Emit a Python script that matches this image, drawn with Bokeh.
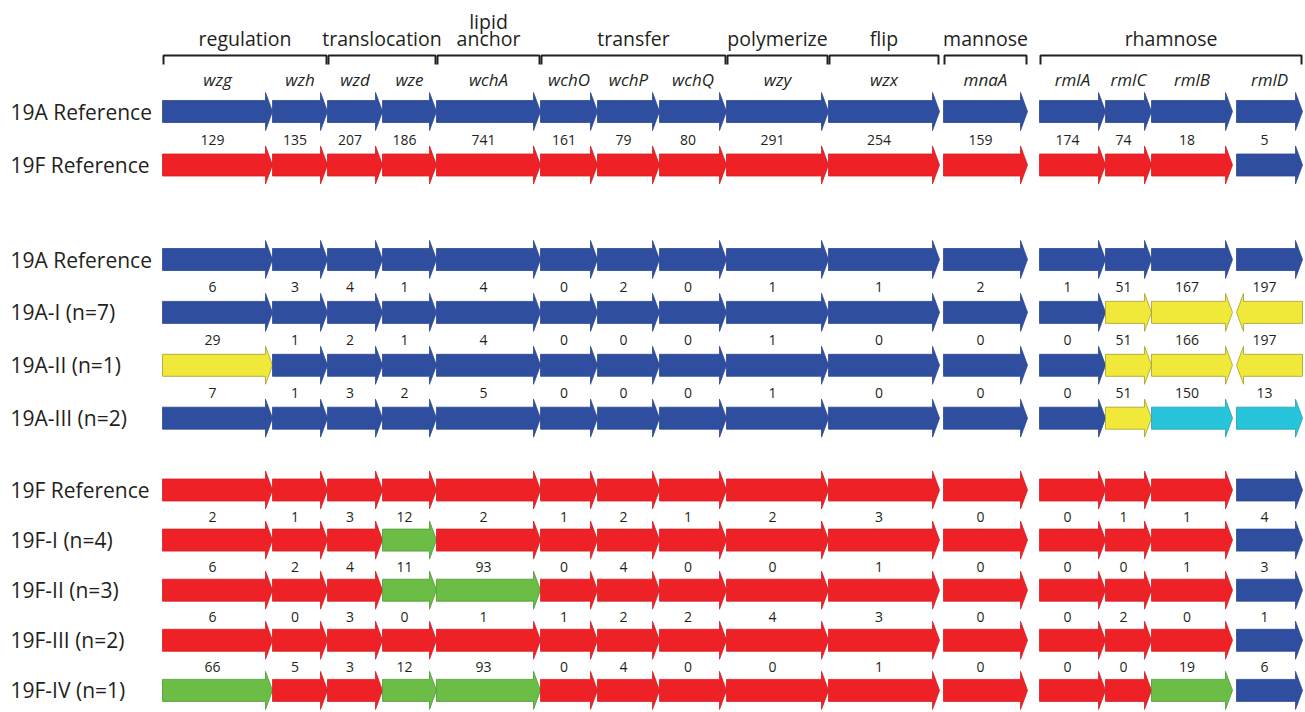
from bokeh.plotting import figure
from bokeh.models import Range1d, ColumnDataSource
from bokeh.core.properties import value
from bokeh.embed import file_html
from bokeh.resources import INLINE

# ---------------- data ----------------
genes = ["wzg", "wzh", "wzd", "wze", "wchA", "wchO", "wchP", "wchQ",
         "wzy", "wzx", "mnaA", "rmlA", "rmlC", "rmlB", "rmlD"]

categories = ["regulation", "translocation", "lipid\nanchor", "transfer",
              "polymerize", "flip", "mannose", "rhamnose"]
category_genes = [["wzg", "wzh"], ["wzd", "wze"], ["wchA"],
                  ["wchO", "wchP", "wchQ"], ["wzy"], ["wzx"], ["mnaA"],
                  ["rmlA", "rmlC", "rmlB", "rmlD"]]

row_labels = ["19A Reference", "19F Reference",
              "19A Reference", "19A-I (n=7)", "19A-II (n=1)", "19A-III (n=2)",
              "19F Reference", "19F-I (n=4)", "19F-II (n=3)", "19F-III (n=2)",
              "19F-IV (n=1)"]
row_groups = [0, 0, 1, 1, 1, 1, 2, 2, 2, 2, 2]

# allele type per gene: B = 19A-like, R = 19F-like, Y / C / G = other variants
row_alleles = [
    "BBBBBBBBBBBBBBB",
    "RRRRRRRRRRRRRRB",
    "BBBBBBBBBBBBBBB",
    "BBBBBBBBBBBBYYY",
    "YBBBBBBBBBBBYYY",
    "BBBBBBBBBBBBYCC",
    "RRRRRRRRRRRRRRB",
    "RRRGRRRRRRRRRRB",
    "RRRGGRRRRRRRRRB",
    "RRRRRRRRRRRRRRB",
    "GRRGGRRRRRRRRGB",
]
# reversed-orientation genes (row index, gene)
reversed_genes = [(3, "rmlD"), (4, "rmlD")]

# allelic differences between consecutive rows
diff_pairs = [(0, 1), (2, 3), (3, 4), (4, 5), (6, 7), (7, 8), (8, 9), (9, 10)]
diff_values = [
    [129, 135, 207, 186, 741, 161, 79, 80, 291, 254, 159, 174, 74, 18, 5],
    [6, 3, 4, 1, 4, 0, 2, 0, 1, 1, 2, 1, 51, 167, 197],
    [29, 1, 2, 1, 4, 0, 0, 0, 1, 0, 0, 0, 51, 166, 197],
    [7, 1, 3, 2, 5, 0, 0, 0, 1, 0, 0, 0, 51, 150, 13],
    [2, 1, 3, 12, 2, 1, 2, 1, 2, 3, 0, 0, 1, 1, 4],
    [6, 2, 4, 11, 93, 0, 4, 0, 0, 1, 0, 0, 0, 1, 3],
    [6, 0, 3, 0, 1, 1, 2, 2, 4, 3, 0, 0, 2, 0, 1],
    [66, 5, 3, 12, 93, 0, 4, 0, 0, 1, 0, 0, 0, 19, 6],
]

# ---------------- layout ----------------
gene_x0 = [162, 272, 327, 382, 436, 540, 597, 659, 726, 828, 943, 1039, 1105, 1151, 1236]
gene_x1 = [272, 327, 382, 436, 540, 597, 659, 726, 828, 939, 1027, 1105, 1151, 1232, 1302]
group_first_y = [111, 259, 489.5]
group_step = [53.5, 52.9, 50.1]
HEAD = 7
BODY_H = 11
HEAD_H = 19

fills = {"B": "#2F4EA0", "R": "#EE2126", "Y": "#F1E93A", "C": "#27C4DB", "G": "#6BBD46"}
lines = {"B": "#2B4793", "R": "#D31E23", "Y": "#A59E2C", "C": "#1F9FB2", "G": "#4E9736"}

FONT = "Open Sans"
INK = "#231F20"

row_y = []
counters = {}
for g in row_groups:
    k = counters.get(g, 0)
    row_y.append(group_first_y[g] + k * group_step[g])
    counters[g] = k + 1

p = figure(width=1305, height=712, output_backend="svg", toolbar_location=None,
           x_range=Range1d(0, 1305), y_range=Range1d(712, 0),
           x_axis_location=None, y_axis_location=None, min_border=0)
p.outline_line_color = None
p.xgrid.visible = False
p.ygrid.visible = False

# arrows
xs, ys, fc, lc = [], [], [], []
for r, (alle, yc) in enumerate(zip(row_alleles, row_y)):
    for gi, gname in enumerate(genes):
        a, b = gene_x0[gi], gene_x1[gi]
        code = alle[gi]
        if (r, gname) in reversed_genes:
            px = [b, a + HEAD, a + HEAD, a, a + HEAD, a + HEAD, b]
        else:
            px = [a, b - HEAD, b - HEAD, b, b - HEAD, b - HEAD, a]
        py = [yc - BODY_H, yc - BODY_H, yc - HEAD_H, yc, yc + HEAD_H, yc + BODY_H, yc + BODY_H]
        xs.append(px)
        ys.append(py)
        fc.append(fills[code])
        lc.append(lines[code])
p.patches(xs="xs", ys="ys", fill_color="fc", line_color="lc", line_width=0.8,
          source=ColumnDataSource(dict(xs=xs, ys=ys, fc=fc, lc=lc)))

# row labels
p.text(x=[10] * len(row_labels), y=row_y, text=row_labels,
       text_font=value(FONT), text_font_size=value("21px"), text_color=INK,
       text_align="left", text_baseline="middle")

# difference numbers
nx, ny, nt = [], [], []
for (ra, rb), vals in zip(diff_pairs, diff_values):
    ym = (row_y[ra] + row_y[rb]) / 2 + 1.5
    for gi, v in enumerate(vals):
        nx.append((gene_x0[gi] + gene_x1[gi]) / 2 - 5)
        ny.append(ym)
        nt.append(str(v))
p.text(x=nx, y=ny, text=nt, text_font=value(FONT), text_font_size=value("14px"),
       text_color=INK, text_align="center", text_baseline="middle")

# gene names
p.text(x=[(a + b) / 2 for a, b in zip(gene_x0, gene_x1)], y=[79] * len(genes), text=genes,
       text_font=value(FONT), text_font_size=value("17px"), text_font_style="italic",
       text_color=INK, text_align="center", text_baseline="middle")

# brackets + category labels
bx, by, cx, cy, ct = [], [], [], [], []
for cat, members in zip(categories, category_genes):
    i0 = genes.index(members[0])
    i1 = genes.index(members[-1])
    b0 = gene_x0[i0] + 1
    b1 = gene_x1[i1] - 1
    bx.append([b0, b0, b1, b1])
    by.append([64, 55, 55, 64])
    parts = cat.split("\n")
    for li, part in enumerate(parts):
        cx.append((b0 + b1) / 2)
        cy.append(38 - (len(parts) - 1 - li) * 17)
        ct.append(part)
p.multi_line(xs=bx, ys=by, line_color=INK, line_width=2)
p.text(x=cx, y=cy, text=ct, text_font=value(FONT), text_font_size=value("19.5px"),
       text_color=INK, text_align="center", text_baseline="middle")

open("out.html", "w").write(file_html(p, INLINE))
